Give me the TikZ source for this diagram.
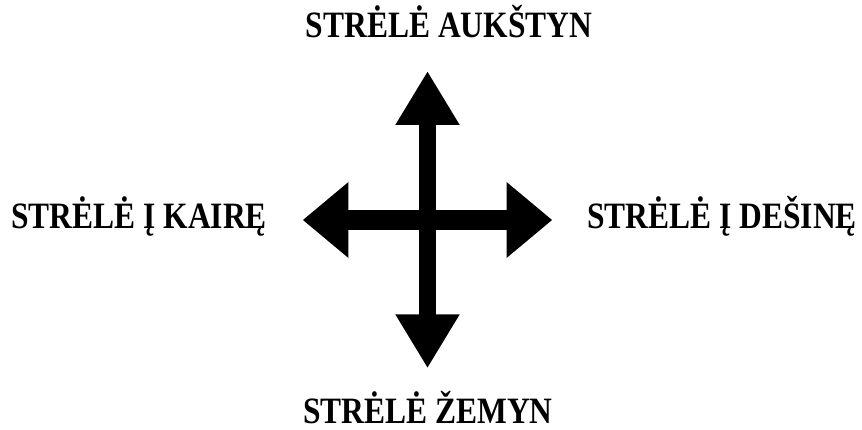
\documentclass[tikz,border=0pt]{standalone}
\usepackage{fontspec}
\setmainfont{Liberation Serif}
\usepackage{tikz}
\usetikzlibrary{arrows.meta}

\begin{document}
\begin{tikzpicture}[x=1pt, y=1pt,
  lbl/.style={font=\fontsize{31.5}{38}\selectfont\bfseries, inner sep=0pt,
              yscale=1.18, transform shape},
  varr/.style={{Triangle[width=60.4pt, length=54pt]}-{Triangle[width=60.4pt, length=54pt]},
               line width=17.3pt},
  harr/.style={{Triangle[width=72.7pt, length=45.6pt]}-{Triangle[width=72.7pt, length=45.6pt]},
               line width=20pt}]

  \useasboundingbox (0,0) rectangle (862,429);

  % arrow tips
  \coordinate (up)    at (427.5,358);
  \coordinate (down)  at (427.5,60.7);
  \coordinate (left)  at (302.7,209);
  \coordinate (right) at (552.3,209);

  \draw[varr] (down) -- (up);
  \draw[harr] (left) -- (right);

  % labels
  \node[lbl, anchor=base]      (tup)    at (449,391) {STRĖLĖ AUKŠTYN};
  \node[lbl, anchor=base west] (tleft)  at (11,200)  {STRĖLĖ Į KAIRĘ};
  \node[lbl, anchor=base west] (tright) at (587,200) {STRĖLĖ Į DEŠINĘ};
  \node[lbl, anchor=base]      (tdown)  at (428,6)   {STRĖLĖ ŽEMYN};
\end{tikzpicture}
\end{document}
